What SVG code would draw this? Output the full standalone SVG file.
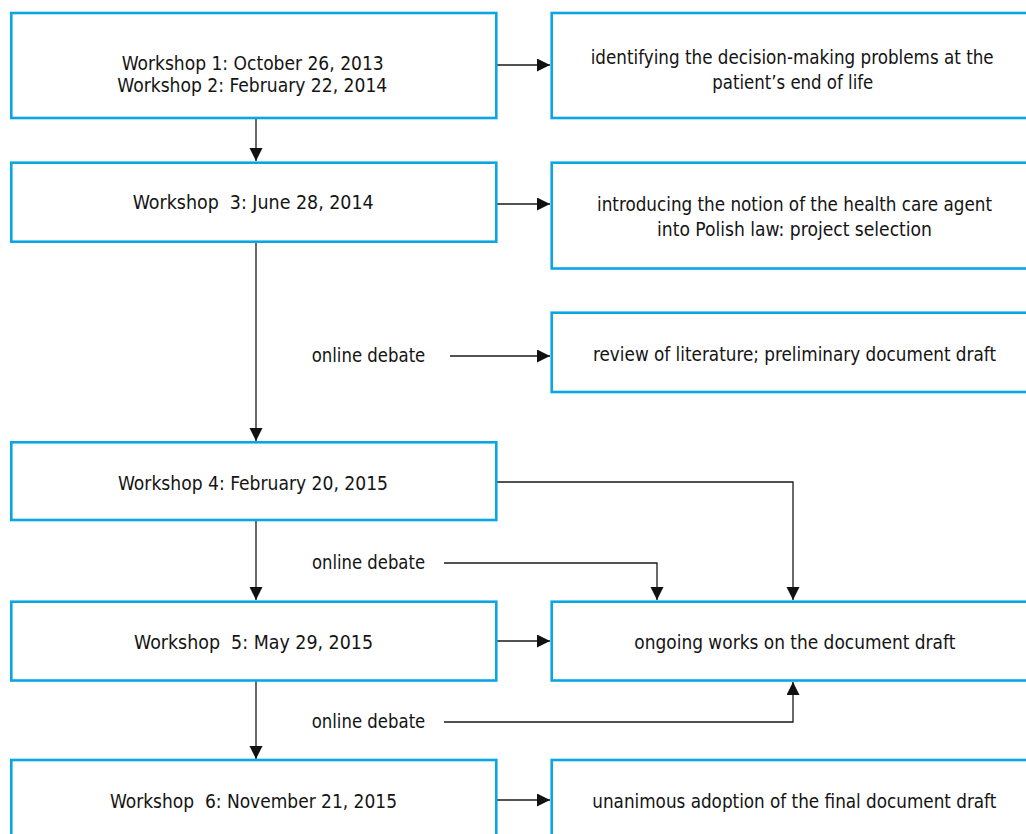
<svg xmlns="http://www.w3.org/2000/svg" width="1026" height="834" viewBox="0 0 1026 834">
<style>
.box{fill:#fff;stroke:#0aa6e4;stroke-width:2.6}
.t{font-family:"DejaVu Sans Condensed",Roboto,"Liberation Sans",sans-serif;font-size:20px;fill:#141414}
.c{fill:none;stroke:#1a1a1a;stroke-width:1.3}
</style>
<defs>
<marker id="ah" markerUnits="userSpaceOnUse" markerWidth="14" markerHeight="14" refX="13" refY="6.5" orient="auto">
<path d="M0,0 L13,6.5 L0,13 Z" fill="#111"/>
</marker>
</defs>
<rect width="1026" height="834" fill="#fff"/>
<g id="connectors">
<path class="c" d="M256,118 V161" marker-end="url(#ah)"/>
<path class="c" d="M497,65 H550" marker-end="url(#ah)"/>
<path class="c" d="M497,204 H550" marker-end="url(#ah)"/>
<path class="c" d="M256,242 V441" marker-end="url(#ah)"/>
<path class="c" d="M450,356 H550" marker-end="url(#ah)"/>
<path class="c" d="M497,482 H793 V600" marker-end="url(#ah)"/>
<path class="c" d="M256,520 V600" marker-end="url(#ah)"/>
<path class="c" d="M444,563 H657 V600" marker-end="url(#ah)"/>
<path class="c" d="M497,641 H550" marker-end="url(#ah)"/>
<path class="c" d="M256,681 V759" marker-end="url(#ah)"/>
<path class="c" d="M444,722 H793 V682" marker-end="url(#ah)"/>
<path class="c" d="M497,800 H550" marker-end="url(#ah)"/>
</g>
<g id="w12">
<rect class="box" x="11.3" y="13" width="485" height="105"/>
<text class="t" x="121.7" y="69.5" textLength="262" lengthAdjust="spacingAndGlyphs">Workshop 1: October 26, 2013</text>
<text class="t" x="117.3" y="91.5" textLength="270" lengthAdjust="spacingAndGlyphs">Workshop 2: February 22, 2014</text>
</g>
<g id="r1">
<rect class="box" x="551.7" y="13" width="476.5" height="105"/>
<text class="t" x="590.7" y="64" textLength="403" lengthAdjust="spacingAndGlyphs">identifying the decision-making problems at the</text>
<text class="t" x="712.3" y="89" textLength="161" lengthAdjust="spacingAndGlyphs">patient’s end of life</text>
</g>
<g id="w3">
<rect class="box" x="11.3" y="162.7" width="485" height="79"/>
<text class="t" x="132.7" y="209" textLength="241" lengthAdjust="spacingAndGlyphs" xml:space="preserve">Workshop  3: June 28, 2014</text>
</g>
<g id="r2">
<rect class="box" x="551.7" y="162.7" width="476.5" height="105.8"/>
<text class="t" x="597" y="211" textLength="395" lengthAdjust="spacingAndGlyphs">introducing the notion of the health care agent</text>
<text class="t" x="657" y="236" textLength="275" lengthAdjust="spacingAndGlyphs">into Polish law: project selection</text>
</g>
<g id="d1">
<text class="t" x="311.7" y="362" textLength="113.6" lengthAdjust="spacingAndGlyphs">online debate</text>
</g>
<g id="r3">
<rect class="box" x="551.7" y="312.7" width="476.5" height="79.3"/>
<text class="t" x="593" y="361" textLength="403" lengthAdjust="spacingAndGlyphs">review of literature; preliminary document draft</text>
</g>
<g id="w4">
<rect class="box" x="11.3" y="442.3" width="485" height="77.7"/>
<text class="t" x="118" y="490" textLength="270" lengthAdjust="spacingAndGlyphs">Workshop 4: February 20, 2015</text>
</g>
<g id="d2">
<text class="t" x="312" y="569" textLength="113" lengthAdjust="spacingAndGlyphs">online debate</text>
</g>
<g id="w5">
<rect class="box" x="11.3" y="601.7" width="485" height="78.8"/>
<text class="t" x="134" y="648.5" textLength="239" lengthAdjust="spacingAndGlyphs" xml:space="preserve">Workshop  5: May 29, 2015</text>
</g>
<g id="r4">
<rect class="box" x="551.7" y="601.7" width="476.5" height="78.8"/>
<text class="t" x="634.3" y="648.5" textLength="321" lengthAdjust="spacingAndGlyphs">ongoing works on the document draft</text>
</g>
<g id="d3">
<text class="t" x="311.7" y="728.3" textLength="113.6" lengthAdjust="spacingAndGlyphs">online debate</text>
</g>
<g id="w6">
<rect class="box" x="11.3" y="760" width="485" height="76"/>
<text class="t" x="110" y="808" textLength="287" lengthAdjust="spacingAndGlyphs" xml:space="preserve">Workshop  6: November 21, 2015</text>
</g>
<g id="r5">
<rect class="box" x="551.7" y="760" width="476.5" height="76"/>
<text class="t" x="592.3" y="808" textLength="404" lengthAdjust="spacingAndGlyphs">unanimous adoption of the final document draft</text>
</g>
</svg>
